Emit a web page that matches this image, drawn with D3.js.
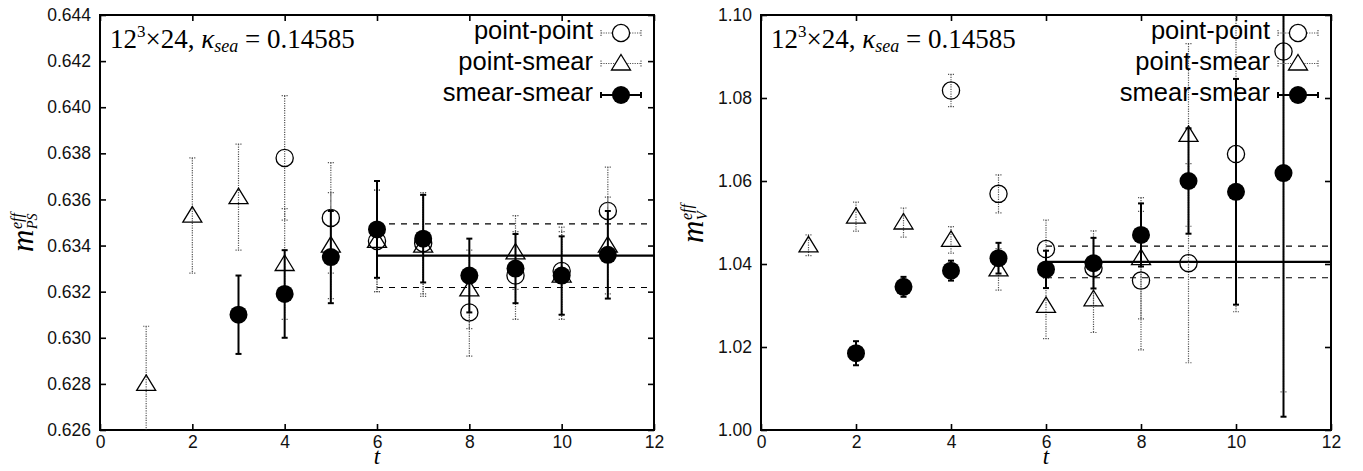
<!DOCTYPE html>
<html><head><meta charset="utf-8">
<script src="https://cdn.jsdelivr.net/npm/d3@7"></script>
<style>body{margin:0;background:#fff}</style>
</head><body><svg id="c" width="1363" height="471" xmlns="http://www.w3.org/2000/svg"></svg>
<script>
// ---------- data ----------
const xTicks = [0, 2, 4, 6, 8, 10, 12];
const legendLabels = ["point-point", "point-smear", "smear-smear"];

// Left panel: m_PS^eff
const L_yTicks = [0.626, 0.628, 0.630, 0.632, 0.634, 0.636, 0.638, 0.640, 0.642, 0.644];
const L_ppT   = [4, 5, 6, 7, 8, 9, 10, 11];
const L_pp    = [0.6378, 0.6352, 0.6342, 0.6341, 0.6311, 0.6327, 0.6329, 0.6355];
const L_ppErr = [0.0027, 0.0024, 0.0022, 0.0022, 0.0019, 0.0019, 0.0019, 0.0019];
const L_psT   = [1, 2, 3, 4, 5, 6, 7, 8, 9, 10, 11];
const L_ps    = [0.6280, 0.6353, 0.6361, 0.6332, 0.6340, 0.6342, 0.6340, 0.6321, 0.6337, 0.6327, 0.6340];
const L_psErr = [0.0025, 0.0025, 0.0023, 0.0024, 0.0023, 0.0022, 0.0022, 0.0017, 0.0016, 0.0019, 0.0021];
const L_ssT   = [3, 4, 5, 6, 7, 8, 9, 10, 11];
const L_ss    = [0.6310, 0.6319, 0.6335, 0.6347, 0.6343, 0.6327, 0.6330, 0.6327, 0.6336];
const L_ssErr = [0.0017, 0.0019, 0.0020, 0.0021, 0.0019, 0.0016, 0.0015, 0.0017, 0.0019];
const L_fit   = [0.63356, 0.00138]; // value, error
const L_fitRange = [6, 12];

// Right panel: m_V^eff
const R_yTicks = [1.00, 1.02, 1.04, 1.06, 1.08, 1.10];
const R_ppT   = [4, 5, 6, 7, 8, 9, 10, 11];
const R_pp    = [1.0818, 1.0569, 1.0436, 1.0390, 1.0360, 1.0402, 1.0665, 1.0912];
const R_ppErr = [0.0039, 0.0046, 0.0070, 0.0090, 0.0167, 0.0240, 0.0380, 0.0820];
const R_psT   = [1, 2, 3, 4, 5, 6, 7, 8, 9];
const R_ps    = [1.0445, 1.0514, 1.0500, 1.0458, 1.0387, 1.0299, 1.0315, 1.0414, 1.0711];
const R_psErr = [0.0025, 0.0035, 0.0035, 0.0032, 0.0050, 0.0079, 0.0080, 0.0146, 0.0220];
const R_ssT   = [2, 3, 4, 5, 6, 7, 8, 9, 10, 11];
const R_ss    = [1.0185, 1.0345, 1.0384, 1.0414, 1.0387, 1.0402, 1.0470, 1.0600, 1.0574, 1.0619];
const R_ssErr = [0.0029, 0.0024, 0.0024, 0.0037, 0.0045, 0.0061, 0.0076, 0.0127, 0.0272, 0.0587];
const R_fit   = [1.0405, 0.0038];
const R_fitRange = [6, 12];

// ---------- drawing ----------
const svg = d3.select("#c");
const SANS = "'Liberation Sans', Arial, Helvetica, sans-serif";
const SERIF = "'Liberation Serif', 'Times New Roman', serif";

function zip(ts, vs, es) { return ts.map((t, i) => ({t, v: vs[i], e: es[i]})); }

function triPath(cx, cy) {
  return `M${cx},${cy - 9}L${cx + 9.5},${cy + 6.5}L${cx - 9.5},${cy + 6.5}Z`;
}

function panel(cfg, idx) {
  const x = d3.scaleLinear().domain([0, 12]).range([cfg.x0, cfg.x1]);
  const y = d3.scaleLinear().domain([cfg.yTicks[0], cfg.yTicks[cfg.yTicks.length - 1]]).range([cfg.y1, cfg.y0]);
  const g = svg.append("g");
  const cid = "clip" + idx;
  g.append("clipPath").attr("id", cid).append("rect")
    .attr("x", cfg.x0).attr("y", cfg.y0).attr("width", cfg.x1 - cfg.x0).attr("height", cfg.y1 - cfg.y0);

  // axes
  const styleAxis = sel => {
    sel.select(".domain").remove();
    sel.selectAll(".tick line").attr("stroke", "#000").attr("stroke-width", 1.6);
    sel.selectAll(".tick text").attr("font-family", SANS).attr("font-size", 17.5).attr("fill", "#111");
  };
  g.append("g").attr("transform", `translate(0,${cfg.y1})`)
    .call(d3.axisBottom(x).tickValues(xTicks).tickSize(-6).tickPadding(6).tickFormat(d3.format("d"))).call(styleAxis);
  g.append("g").attr("transform", `translate(0,${cfg.y0})`)
    .call(d3.axisTop(x).tickValues(xTicks).tickSize(-6).tickFormat("")).call(styleAxis);
  g.append("g").attr("transform", `translate(${cfg.x0},0)`)
    .call(d3.axisLeft(y).tickValues(cfg.yTicks).tickSize(-6).tickPadding(9).tickFormat(d3.format(cfg.fmt))).call(styleAxis);
  g.append("g").attr("transform", `translate(${cfg.x1},0)`)
    .call(d3.axisRight(y).tickValues(cfg.yTicks).tickSize(-6).tickFormat("")).call(styleAxis);
  g.append("rect").attr("x", cfg.x0).attr("y", cfg.y0).attr("width", cfg.x1 - cfg.x0).attr("height", cfg.y1 - cfg.y0)
    .attr("fill", "none").attr("stroke", "#000").attr("stroke-width", 2);

  const data = g.append("g").attr("clip-path", `url(#${cid})`);

  // fit lines
  const [fv, fe] = cfg.fit;
  const fx0 = x(cfg.fitRange[0]), fx1 = x(cfg.fitRange[1]);
  data.append("line").attr("x1", fx0).attr("x2", fx1).attr("y1", y(fv)).attr("y2", y(fv))
    .attr("stroke", "#000").attr("stroke-width", 2.2);
  [fv + fe, fv - fe].forEach(v => data.append("line").attr("x1", fx0).attr("x2", fx1).attr("y1", y(v)).attr("y2", y(v))
    .attr("stroke", "#000").attr("stroke-width", 1.1).attr("stroke-dasharray", "6,6"));

  function errBars(pts, solid) {
    const eg = data.append("g").attr("stroke", solid ? "#000" : "#555")
      .attr("stroke-width", solid ? 2 : 1.2).attr("stroke-dasharray", solid ? null : "1.2,1.2");
    pts.forEach(p => {
      const cx = x(p.t), ya = y(p.v + p.e), yb = y(p.v - p.e), w = 3;
      eg.append("line").attr("x1", cx).attr("x2", cx).attr("y1", ya).attr("y2", yb);
      eg.append("line").attr("x1", cx - w).attr("x2", cx + w).attr("y1", ya).attr("y2", ya);
      eg.append("line").attr("x1", cx - w).attr("x2", cx + w).attr("y1", yb).attr("y2", yb);
    });
  }

  const pp = zip(cfg.ppT, cfg.pp, cfg.ppErr);
  const ps = zip(cfg.psT, cfg.ps, cfg.psErr);
  const ss = zip(cfg.ssT, cfg.ss, cfg.ssErr);

  errBars(pp, false);
  data.append("g").selectAll("circle").data(pp).join("circle")
    .attr("cx", d => x(d.t)).attr("cy", d => y(d.v)).attr("r", 8.6)
    .attr("fill", "none").attr("stroke", "#000").attr("stroke-width", 1.3);
  errBars(ps, false);
  data.append("g").selectAll("path").data(ps).join("path")
    .attr("d", d => triPath(x(d.t), y(d.v)))
    .attr("fill", "none").attr("stroke", "#000").attr("stroke-width", 1.3);
  errBars(ss, true);
  data.append("g").selectAll("circle").data(ss).join("circle")
    .attr("cx", d => x(d.t)).attr("cy", d => y(d.v)).attr("r", 9)
    .attr("fill", "#000");

  // legend
  const rows = [33, 63.5, 95];
  const tx = cfg.x1 - 61, lx0 = cfg.x1 - 53, lx1 = cfg.x1 - 13, mx = cfg.x1 - 33;
  legendLabels.forEach((lab, i) => {
    const ry = rows[i];
    g.append("text").attr("x", tx).attr("y", ry + 6).attr("text-anchor", "end")
      .attr("font-family", SANS).attr("font-size", 25.5).attr("fill", "#000").text(lab);
    const solid = i === 2;
    const lg = g.append("g").attr("stroke", solid ? "#000" : "#555")
      .attr("stroke-width", solid ? 2 : 1.2).attr("stroke-dasharray", solid ? null : "1.2,1.2");
    lg.append("line").attr("x1", lx0).attr("x2", lx1).attr("y1", ry).attr("y2", ry);
    lg.append("line").attr("x1", lx0).attr("x2", lx0).attr("y1", ry - 3).attr("y2", ry + 3);
    lg.append("line").attr("x1", lx1).attr("x2", lx1).attr("y1", ry - 3).attr("y2", ry + 3);
    if (i === 0) g.append("circle").attr("cx", mx).attr("cy", ry).attr("r", 8.6).attr("fill", "#fff").attr("stroke", "#000").attr("stroke-width", 1.3);
    if (i === 1) g.append("path").attr("d", triPath(mx, ry)).attr("fill", "#fff").attr("stroke", "#000").attr("stroke-width", 1.3);
    if (i === 2) g.append("circle").attr("cx", mx).attr("cy", ry).attr("r", 9).attr("fill", "#000");
  });

  // annotation
  const an = g.append("text").attr("x", cfg.x0 + 10).attr("y", 48)
    .attr("font-family", SERIF).attr("font-size", 27).attr("fill", "#000");
  an.append("tspan").text("12");
  an.append("tspan").attr("dy", -11).attr("font-size", 17).text("3");
  an.append("tspan").attr("dy", 11).text("\u00d724, ");
  an.append("tspan").attr("font-style", "italic").text("\u03ba");
  an.append("tspan").attr("font-style", "italic").attr("font-size", 18).attr("dy", 4).text("sea");
  an.append("tspan").attr("dy", -4).text(" = 0.14585");

  // x label
  g.append("text").attr("x", x(6)).attr("y", 464).attr("text-anchor", "middle")
    .attr("font-family", SERIF).attr("font-style", "italic").attr("font-size", 23).text("t");

  // y label (rotated)
  const yl = g.append("g").attr("transform", `translate(${cfg.ylx},${cfg.yly}) rotate(-90)`);
  yl.append("text").attr("x", 0).attr("y", 0).attr("font-family", SERIF).attr("font-style", "italic")
    .attr("font-size", 31).text("m");
  yl.append("text").attr("x", 23).attr("y", -11).attr("font-family", SERIF).attr("font-style", "italic")
    .attr("font-size", 16).text("eff");
  yl.append("text").attr("x", 23).attr("y", 4).attr("font-family", SERIF).attr("font-style", "italic")
    .attr("font-size", 14).text(cfg.ysub);
}

panel({x0: 100, x1: 654, y0: 15, y1: 430, yTicks: L_yTicks, fmt: ".3f",
  ppT: L_ppT, pp: L_pp, ppErr: L_ppErr, psT: L_psT, ps: L_ps, psErr: L_psErr,
  ssT: L_ssT, ss: L_ss, ssErr: L_ssErr, fit: L_fit, fitRange: L_fitRange,
  ylx: 33, yly: 252, ysub: "PS"}, 0);
panel({x0: 761, x1: 1331, y0: 15, y1: 430, yTicks: R_yTicks, fmt: ".2f",
  ppT: R_ppT, pp: R_pp, ppErr: R_ppErr, psT: R_psT, ps: R_ps, psErr: R_psErr,
  ssT: R_ssT, ss: R_ss, ssErr: R_ssErr, fit: R_fit, fitRange: R_fitRange,
  ylx: 703, yly: 243, ysub: "V"}, 1);
</script>
</body></html>
